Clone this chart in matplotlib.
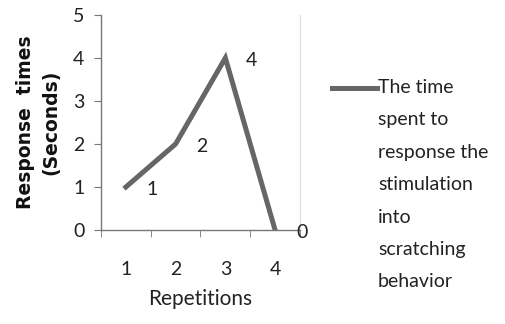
import matplotlib
matplotlib.use("Agg")
import matplotlib.pyplot as plt
from matplotlib.lines import Line2D
import numpy as np

repetitions = [1, 2, 3, 4]
response_times = [1, 2, 4, 0]
data_labels = ["1", "2", "4", "0"]
y_ticks = [0, 1, 2, 3, 4, 5]
legend_text = "The time\nspent to\nresponse the\nstimulation\ninto\nscratching\nbehavior"

plt.rcParams['font.family'] = ['Lato', 'DejaVu Sans']

fig = plt.figure(figsize=(5.05, 3.24), dpi=100)
ax = fig.add_axes([0.2, 0.29, 0.394, 0.664])

line_color = '#666666'
ax.plot(repetitions, response_times, color=line_color, lw=3.6, solid_joinstyle='miter')

for x, y, t in zip(repetitions, response_times, data_labels):
    ax.annotate(t, (x, y), xytext=(15, -2), textcoords='offset points',
                fontsize=14, color='#222222', ha='left', va='center')

ax.set_xlim(0.5, 4.5)
ax.set_ylim(0, 5)
ax.set_yticks(y_ticks)
ax.set_xticks(repetitions)
ax.set_xticks(np.arange(0.5, 4.6, 1.0), minor=True)
ax.tick_params(axis='x', which='major', length=0, pad=22, labelsize=14, labelcolor='#222222')
ax.tick_params(axis='x', which='minor', length=5, color='#777777', direction='out')
ax.tick_params(axis='y', which='major', length=5, color='#777777', labelsize=14, pad=7,
               labelcolor='#222222')

for s in ['left', 'bottom']:
    ax.spines[s].set_color('#777777')
    ax.spines[s].set_linewidth(1.0)
ax.spines['top'].set_visible(False)
ax.spines['right'].set_color('#dddddd')
ax.spines['right'].set_linewidth(0.8)

ax.set_xlabel('Repetitions', fontsize=15, labelpad=8, color='#222222')
ax.set_ylabel('Response  times\n(Seconds)', fontsize=13.5, fontweight='bold', labelpad=9,
              linespacing=1.45, family=['DejaVu Sans'], color='#111111')

# legend
fig.add_artist(Line2D([332/505, 377/505], [1-88/324, 1-88/324], color=line_color, lw=3.6,
                      transform=fig.transFigure))
fig.text(378/505, 1-79/324, legend_text, fontsize=14, va='top', ha='left',
         linespacing=2.1, color='#222222')

fig.savefig('out.png', dpi=100)
